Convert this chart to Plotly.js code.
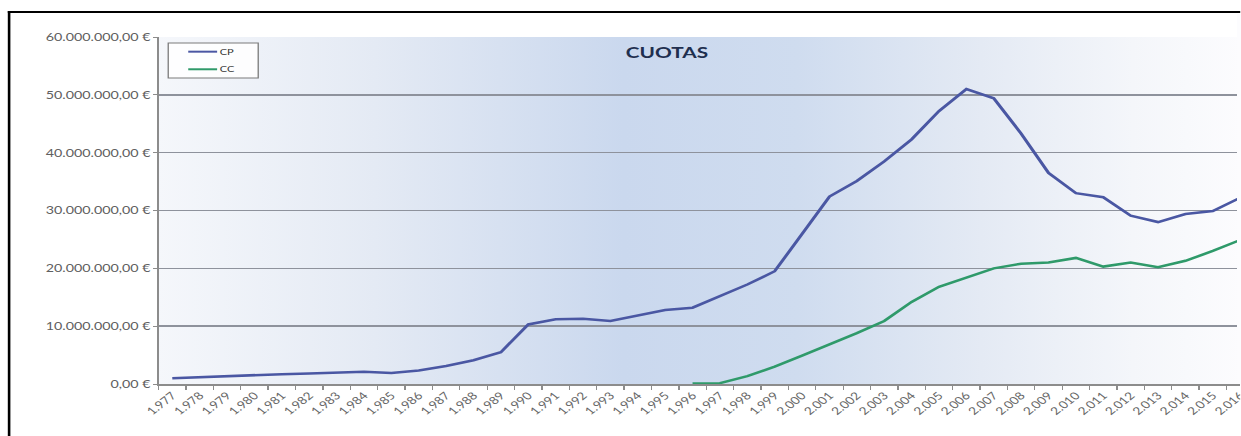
<!DOCTYPE html>
<html><head><meta charset="utf-8">
<script src="https://cdn.plot.ly/plotly-3.0.1.min.js"></script>
<style>
html,body{margin:0;padding:0;background:#fff;overflow:hidden;width:1241px;height:436px;}
#bg{position:absolute;left:158.3px;top:37px;width:1082.7px;height:347.5px;
background:linear-gradient(to right,#f5f7fb 0%,#e4eaf4 20%,#cad8ee 43%,#cfdcef 59%,#e4eaf4 76%,#f4f6fa 90%,#fcfcfe 100%);}
#stage{position:absolute;left:0;top:0;width:954px;height:436px;transform:scaleX(1.3);transform-origin:0 0;}
#topline{position:absolute;left:5.6px;top:11px;width:948px;height:2.3px;background:#000;}
#leftline{position:absolute;left:5.6px;top:11px;width:2.9px;height:425px;background:#000;}
#chart{position:absolute;left:0;top:0;width:954px;height:436px;}
#edge{position:absolute;left:1237px;top:14px;width:4px;height:370px;background:#fcfcfe;z-index:10;}
</style>
</head><body>
<div id="bg"></div>
<div id="stage"><div id="topline"></div><div id="leftline"></div><div id="chart"></div></div>
<div id="edge"></div>
<script>
var years = ['1.977','1.978','1.979','1.980','1.981','1.982','1.983','1.984','1.985','1.986',
  '1.987','1.988','1.989','1.990','1.991','1.992','1.993','1.994','1.995','1.996',
  '1.997','1.998','1.999','2.000','2.001','2.002','2.003','2.004','2.005','2.006',
  '2.007','2.008','2.009','2.010','2.011','2.012','2.013','2.014','2.015','2.016'];
// values in millions of euros
var cp = [1.0,1.2,1.35,1.6,1.7,1.8,2.0,2.1,1.9,2.35,3.1,4.1,5.5,
  10.3,11.2,11.3,10.9,11.85,12.8,13.2,15.2,17.2,19.5,
  25.9,32.4,35.1,38.5,42.3,47.2,51.0,49.4,43.3,36.5,
  33.0,32.3,29.1,28.0,29.4,29.9,32.2];
var cc = [null,null,null,null,null,null,null,null,null,null,
  null,null,null,null,null,null,null,null,null,
  0.1,0.15,1.35,3.0,4.9,6.8,8.8,10.9,14.2,16.8,18.4,20.0,20.8,21.0,21.8,20.3,21.0,20.2,21.3,23.0,24.9];
var seriesNames = ['CP','CC'];
var seriesColors = ['#4a57a3','#2f9a6a'];
var yTickVals = [0,10,20,30,40,50,60];
var yTickText = ['0,00 €','10.000.000,00 €','20.000.000,00 €','30.000.000,00 €','40.000.000,00 €','50.000.000,00 €','60.000.000,00 €'];

var traces = [
  {x:years, y:cp, name:seriesNames[0], type:'scatter', mode:'lines', line:{color:seriesColors[0], width:2.5}},
  {x:years, y:cc, name:seriesNames[1], type:'scatter', mode:'lines', line:{color:seriesColors[1], width:2.5}}
];
// legend box in paper coordinates of the plot area
var legX0 = 0.0089, legX1 = 0.0921, legY0 = 0.882, legY1 = 0.9827;
var legRows = [0.9577, 0.907];
var shapes = [{type:'rect', xref:'paper', yref:'paper', x0:legX0, x1:legX1, y0:legY0, y1:legY1,
  line:{color:'#7a7a7a', width:1}, fillcolor:'rgba(255,255,255,0.85)'}];
var annotations = [];
seriesNames.forEach(function(n, i){
  shapes.push({type:'line', xref:'paper', yref:'paper', x0:0.0274, x1:0.0541, y0:legRows[i], y1:legRows[i],
    line:{color:seriesColors[i], width:2}});
  annotations.push({xref:'paper', yref:'paper', x:0.0542, y:legRows[i], xanchor:'left', yanchor:'middle',
    text:n, showarrow:false, font:{size:8.5, color:'#333333'}});
});
var layout = {
  width:954, height:436,
  margin:{l:121.8, r:0, t:37, b:51.5, pad:0},
  paper_bgcolor:'rgba(0,0,0,0)', plot_bgcolor:'rgba(0,0,0,0)',
  font:{family:'Lato, sans-serif', size:9.5, color:'#595959'},
  title:{text:'CUOTAS', font:{family:'Lato, sans-serif', size:16, color:'#1f2f4f', weight:700},
    xref:'container', yref:'container', x:513/954, xanchor:'center', y:1-52.5/436, yanchor:'middle'},
  showlegend:false,
  shapes:shapes, annotations:annotations,
  xaxis:{type:'category', range:[-0.5,39.0], tickangle:-45, ticks:'outside', tickson:'boundaries', ticklen:4,
    tickcolor:'#8c8c8c', showline:true, linecolor:'#8c8c8c', linewidth:1.5, showgrid:false, zeroline:false,
    tickfont:{size:10.5, color:'#666666'}},
  yaxis:{range:[0,60], tickmode:'array', tickvals:yTickVals, ticktext:yTickText, ticks:'outside', ticklen:3,
    tickcolor:'#8c8c8c', showline:true, linecolor:'#8c8c8c', linewidth:1, gridcolor:'#8e929c', gridwidth:1.6,
    zeroline:false, tickfont:{size:11, color:'#606060'}}
};
Plotly.newPlot('chart', traces, layout, {staticPlot:true, displayModeBar:false});
</script>
</body></html>
